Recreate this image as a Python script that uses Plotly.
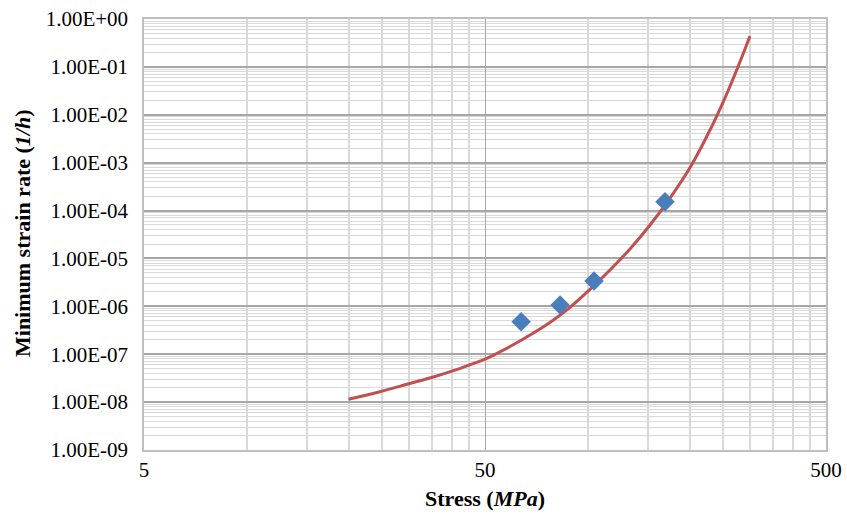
import plotly.graph_objects as go

# Experimental data (diamonds)
stress_exp = [63.8, 83, 104.4, 168.6]
rate_exp = [4.78e-7, 1.07e-6, 3.38e-6, 1.53e-4]

# Fitted curve
stress_fit = [19.9, 24.6, 30.1, 35.3, 40.4, 45.2, 50.6, 59.2, 67.8, 77.5, 88.8, 101.6,
              116.3, 133.1, 152.4, 174.4, 199.7, 228.5, 250.0, 273.6, 299.3]
rate_fit = [1.15e-8, 1.65e-8, 2.45e-8, 3.35e-8, 4.53e-8, 6.04e-8, 8.22e-8, 1.45e-7, 2.52e-7,
            4.6e-7, 9.55e-7, 2.25e-6, 5.74e-6, 1.58e-5, 5.0e-5, 1.82e-4, 7.9e-4, 4.8e-3,
            1.88e-2, 8.61e-2, 0.442]

x_ticks = [5, 50, 500]
x_tick_text = ["5", "50", "500"]
x_minor = [10, 15, 20, 25, 30, 35, 40, 45, 100, 150, 200, 250, 300, 350, 400, 450]
y_ticks = [10.0 ** e for e in range(-9, 1)]
y_tick_text = ["1.00E-09", "1.00E-08", "1.00E-07", "1.00E-06", "1.00E-05",
               "1.00E-04", "1.00E-03", "1.00E-02", "1.00E-01", "1.00E+00"]
y_minor = [m * 10.0 ** e for e in range(-9, 0) for m in range(2, 10)]

fig = go.Figure()
fig.add_trace(go.Scatter(x=stress_fit, y=rate_fit, mode="lines",
                         line=dict(color="#C0504D", width=3, shape="spline", smoothing=1.0),
                         showlegend=False, hoverinfo="skip"))
fig.add_trace(go.Scatter(x=stress_exp, y=rate_exp, mode="markers",
                         marker=dict(symbol="diamond", size=15, color="#4A7EBB"),
                         showlegend=False))

font_family = "Liberation Serif, Times New Roman, serif"
fig.update_layout(
    width=847, height=517,
    margin=dict(l=144, r=21, t=19, b=67, autoexpand=False),
    paper_bgcolor="white", plot_bgcolor="white",
    font=dict(family=font_family, size=21, color="black"),
    xaxis=dict(type="log", range=[0.69897, 2.69897], automargin=False,
               tickmode="array", tickvals=x_ticks, ticktext=x_tick_text,
               showgrid=True, gridcolor="#A6A6A6", gridwidth=1.2,
               minor=dict(tickmode="array", tickvals=x_minor, showgrid=True,
                          gridcolor="#D9D9D9", gridwidth=1.5),
               showline=True, linecolor="#BFBFBF", linewidth=1.5, mirror=True,
               ticks="", ticklabelstandoff=0, zeroline=False,
               tickfont=dict(family=font_family, size=21)),
    yaxis=dict(type="log", range=[-9, 0], automargin=False,
               tickmode="array", tickvals=y_ticks, ticktext=y_tick_text,
               showgrid=True, gridcolor="#A6A6A6", gridwidth=1.5,
               minor=dict(tickmode="array", tickvals=y_minor, showgrid=True,
                          gridcolor="#D9D9D9", gridwidth=1.2),
               showline=True, linecolor="#BFBFBF", linewidth=1.5, mirror=True,
               ticks="", ticklabelstandoff=10, zeroline=False,
               tickfont=dict(family=font_family, size=21)),
    annotations=[
        dict(text="<b>Stress (<i>MPa</i>)</b>", xref="paper", yref="paper",
             x=0.5, y=(450 - 498) / 431, xanchor="center", yanchor="middle",
             showarrow=False, font=dict(family=font_family, size=22)),
        dict(text="<b>Minimum strain rate (<i>1/h</i>)</b>", xref="paper", yref="paper",
             x=(22 - 144) / 682, y=(450 - 234) / 431, xanchor="center", yanchor="middle",
             textangle=-90, showarrow=False, font=dict(family=font_family, size=22)),
    ],
)

fig.write_html("out.html", config={"displayModeBar": False},
               post_script="document.body.style.margin='0';document.body.style.overflow='hidden';")
